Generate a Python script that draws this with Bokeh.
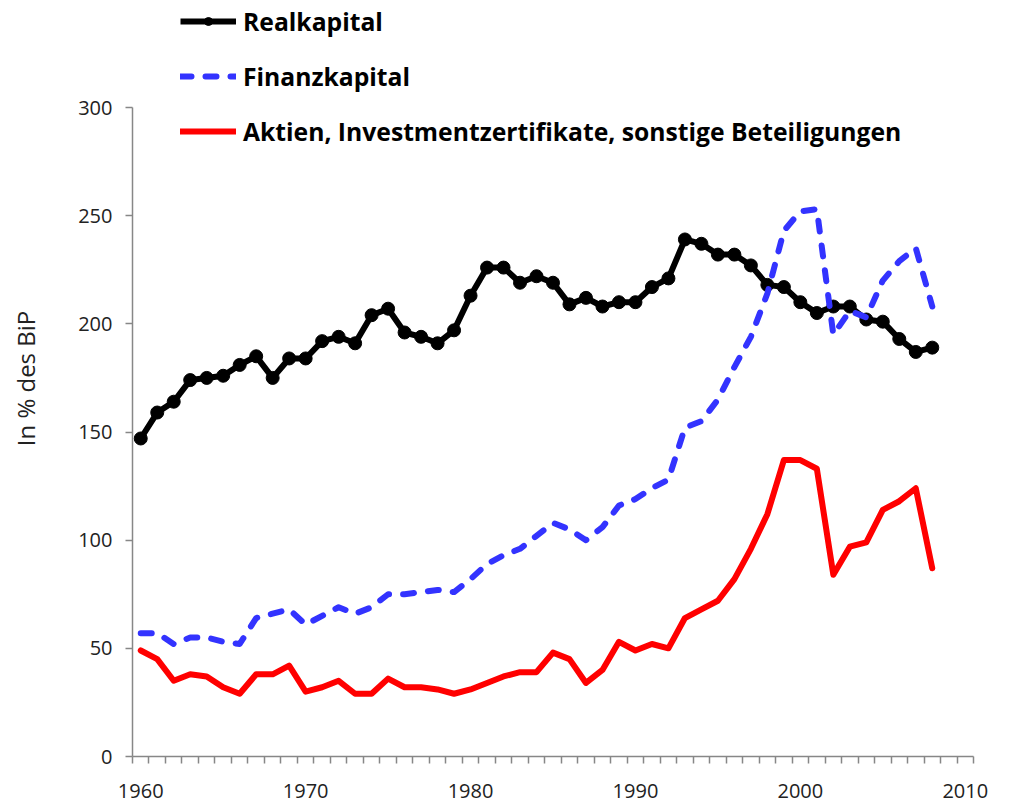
import math
from bokeh.plotting import figure
from bokeh.models import Range1d, FixedTicker, Legend, LegendItem
from bokeh.embed import file_html
from bokeh.resources import INLINE

years = list(range(1960, 2009))

realkapital = [147, 159, 164, 174, 175, 176, 181, 185, 175, 184,
               184, 192, 194, 191, 204, 207, 196, 194, 191, 197,
               213, 226, 226, 219, 222, 219, 209, 212, 208, 210,
               210, 217, 221, 239, 237, 232, 232, 227, 218, 217,
               210, 205, 208, 208, 202, 201, 193, 187, 189]

finanzkapital = [57, 57, 52, 55, 55, 53, 52, 64, 66, 68,
                 61, 65, 69, 66, 69, 75, 75, 76, 77, 76,
                 82, 89, 93, 96, 102, 108, 105, 100, 106, 116,
                 119, 124, 128, 152, 155, 165, 180, 194, 214, 243,
                 252, 253, 195, 206, 203, 220, 229, 235, 208]

aktien = [49, 45, 35, 38, 37, 32, 29, 38, 38, 42,
          30, 32, 35, 29, 29, 36, 32, 32, 31, 29,
          31, 34, 37, 39, 39, 48, 45, 34, 40, 53,
          49, 52, 50, 64, 68, 72, 82, 96, 112, 137,
          137, 133, 84, 97, 99, 114, 118, 124, 87]

x_ticks = [1960, 1970, 1980, 1990, 2000, 2010]
y_ticks = [0, 50, 100, 150, 200, 250, 300]
series_names = ["Realkapital", "Finanzkapital",
                "Aktien, Investmentzertifikate, sonstige Beteiligungen"]
y_label = "In % des BiP"

FONT = "Open Sans"
AXIS_COLOR = "#878787"
TEXT_COLOR = "#222222"

# frame: y=300 at 107px, y=0 at 756px; frame extends to top of canvas so the
# legend (which sits above the 300 line) is not clipped
y_top = 300 + 107 / (649 / 300)

p = figure(width=995, height=806, output_backend="svg", toolbar_location=None,
           x_range=Range1d(1959.5, 2010.5), y_range=Range1d(0, y_top),
           min_border_left=132, min_border_right=22,
           min_border_top=0, min_border_bottom=50)
p.outline_line_color = None
p.xgrid.grid_line_color = None
p.ygrid.grid_line_color = None
p.background_fill_color = "white"
p.border_fill_color = "white"

xa = p.xaxis[0]
xa.ticker = FixedTicker(ticks=x_ticks, minor_ticks=[y - 0.5 for y in range(1960, 2012)])
xa.major_tick_line_color = None
xa.major_tick_out = 7
xa.major_tick_in = 0
xa.minor_tick_out = 7
xa.minor_tick_in = 0
xa.minor_tick_line_color = AXIS_COLOR
xa.minor_tick_line_width = 1.5
xa.axis_line_color = AXIS_COLOR
xa.axis_line_width = 1.5
xa.major_label_text_font = FONT
xa.major_label_text_font_size = "20px"
xa.major_label_text_color = TEXT_COLOR
xa.major_label_standoff = 20

ya = p.yaxis[0]
ya.ticker = FixedTicker(ticks=y_ticks, minor_ticks=[])
ya.bounds = (0, 300)
ya.major_tick_out = 7
ya.major_tick_in = 0
ya.major_tick_line_color = AXIS_COLOR
ya.major_tick_line_width = 1.5
ya.minor_tick_line_color = None
ya.axis_line_color = AXIS_COLOR
ya.axis_line_width = 1.5
ya.major_label_text_font = FONT
ya.major_label_text_font_size = "20px"
ya.major_label_text_color = TEXT_COLOR
ya.major_label_standoff = 13
ya.axis_label = y_label
ya.axis_label_text_font = FONT
ya.axis_label_text_font_size = "24px"
ya.axis_label_text_font_style = "normal"
ya.axis_label_text_color = TEXT_COLOR
ya.axis_label_standoff = 33

r_line = p.line(years, realkapital, line_color="black", line_width=6, line_join="round")
r_pts = p.scatter(years, realkapital, size=13, fill_color="black", line_color="black")
f_line = p.line(years, finanzkapital, line_color="#3333FF", line_width=6,
                line_dash="11 14", line_cap="round", line_join="round")
a_line = p.line(years, aktien, line_color="#FF0000", line_width=6,
                line_cap="round", line_join="round")

legend = Legend(items=[
    LegendItem(label=series_names[0], renderers=[r_line, r_pts]),
    LegendItem(label=series_names[1], renderers=[f_line]),
    LegendItem(label=series_names[2], renderers=[a_line]),
], location=(48, 607))
legend.border_line_color = None
legend.background_fill_alpha = 0
legend.padding = 0
legend.margin = 0
legend.spacing = 19
legend.glyph_height = 20
legend.glyph_width = 56
legend.label_height = 36
legend.label_standoff = 7
legend.label_text_font = FONT
legend.label_text_font_style = "bold"
legend.label_text_font_size = "24.7px"
legend.label_text_color = "black"
p.add_layout(legend, "center")

open("out.html", "w").write(file_html(p, INLINE))
